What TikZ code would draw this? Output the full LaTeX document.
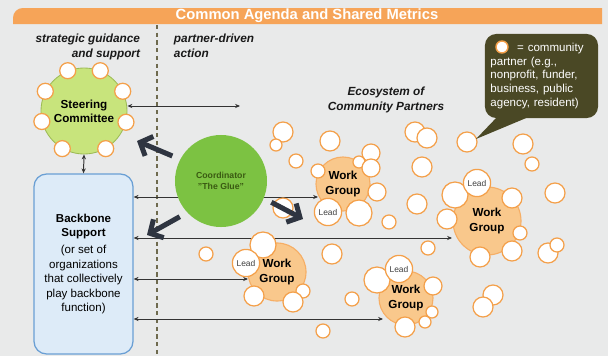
\documentclass[tikz,border=0pt]{standalone}
\usepackage{fontspec}
\setmainfont{Liberation Sans}
\usepackage{xcolor}
\usepackage{tikz}
\usetikzlibrary{positioning, arrows.meta, calc}

\definecolor{bgGray}{HTML}{E9EAEA}
\definecolor{barOrange}{HTML}{F6A458}
\definecolor{ringOrange}{HTML}{F4A04A}
\definecolor{wgFill}{HTML}{F9C88C}
\definecolor{scGreen}{HTML}{C8E47C}
\definecolor{scEdge}{HTML}{9DBB55}
\definecolor{glueGreen}{HTML}{7CC242}
\definecolor{glueText}{HTML}{3A5A12}
\definecolor{bbBlue}{HTML}{DDEBF8}
\definecolor{bbEdge}{HTML}{6A9FD4}
\definecolor{bubOlive}{HTML}{4A4825}
\definecolor{dashCol}{HTML}{6E6A4E}
\definecolor{arrowDark}{HTML}{2F3541}

\begin{document}
\begin{tikzpicture}[x=0.025cm, y=-0.025cm,
  partner/.style={circle, draw=ringOrange, fill=white, line width=0.9pt, inner sep=0pt},
  group/.style={circle, draw=ringOrange!85, fill=wgFill, line width=0.8pt, inner sep=0pt, align=center, font=\fontsize{8.3}{10}\selectfont\bfseries},
  lead/.style={partner, minimum size=0.68cm, font=\fontsize{6}{7}\selectfont, text=black!75},
  link/.style={{Stealth[length=3.5pt, width=3pt]}-{Stealth[length=3.5pt, width=3pt]}, line width=0.7pt, draw=black!80},
  glue/.style={-{Straight Barb[length=7pt, width=15pt]}, line width=3.6pt, draw=arrowDark, shorten <=6pt},
  hdr/.style={font=\fontsize{8.4}{10.5}\selectfont\bfseries\itshape, text=black!90}]

\fill[bgGray] (0,0) rectangle (608,356);
\useasboundingbox (0,0) rectangle (608,356);

% title bar
\fill[barOrange] (13,24) [rounded corners=7pt] -- (13,8) [sharp corners] -- (602,8) -- (602,24) -- cycle;
\node [text=white, font=\fontsize{10.5}{12}\selectfont\bfseries] (title) at (307,16) {Common Agenda and Shared Metrics};

\draw [draw=dashCol, line width=0.8pt, dash pattern=on 3pt off 2.5pt] (157,25) -- (157,356);

\node [hdr, align=right, anchor=north east] (strat) at (145,29) {strategic guidance\\and support};
\node [hdr, align=left, anchor=north west] (action) at (169,29) {partner-driven\\action};
\node [hdr, align=center] (eco) at (386,100) {Ecosystem of\\Community Partners};

\node [circle, fill=scGreen, draw=scEdge, line width=0.6pt, minimum size=2.15cm, align=center, font=\fontsize{8.3}{10}\selectfont\bfseries] (SC) at (84,111) {Steering\\Committee};
\foreach \a in {27,68,112,153,194,240,300,345}
  \node [partner, minimum size=0.4cm] (ring\a) at (SC.\a) {};

\node [rectangle, rounded corners=9pt, fill=bbBlue, draw=bbEdge, line width=0.9pt, minimum width=2.475cm, minimum height=4.5cm, align=center, font=\fontsize{8.2}{10.3}\selectfont] (BB) at (83.5,264) {\textbf{Backbone}\\\textbf{Support}\\[1.5pt](or set of\\organizations\\that collectively\\play backbone\\function)};

\coordinate (s1) at (240,106);
\coordinate (b1) at (318,197);
\coordinate (b2) at (452,238);
\coordinate (b3) at (248,279);
\coordinate (b4) at (383,319);

\draw [link] (SC.east |- s1) -- (s1);
\draw [link] (SC.south) -- (BB.north);
\draw [link] (BB.east |- b1) -- (b1);
\draw [link] (BB.east |- b2) -- (b2);
\draw [link] (BB.east |- b3) -- (b3);
\draw [link] (BB.east |- b4) -- (b4);

\node [group, minimum size=1.35cm] (W1) at (343,184) {Work\\Group};
\node [group, minimum size=1.7cm] (W2) at (487,221) {Work\\Group};
\node [group, minimum size=1.45cm] (W3) at (277,272) {Work\\Group};
\node [group, minimum size=1.35cm] (W4) at (406,298) {Work\\Group};

% community partners: x/y/radius in px
\foreach \x/\y/\r [count=\i] in {283/132/10, 276/145/6, 330/141/10, 296/161/7, 318/171/7, 371/153/9, 359/162/6, 371/168/9, 377/192/9, 359/213/13, 389/222/7, 283/208/10, 263/245/13, 415/132/10, 427/138/10, 422/167/10, 417/204/10, 467/142/10, 523/144/10, 532/164/7, 555/193/10, 455/195/13, 512/198/10, 447/219/10, 520/233/7, 480/257/10, 512/251/10, 428/248/7, 548/253/10, 557/245/7, 332/254/10, 377/280/13, 433/286/9, 352/299/7, 432/312/6, 425/322/6, 405/327/10, 493/295/10, 483/307/10, 323/331/7, 303/291/7, 206/254/7, 254/296/10, 293/302/10}
  \node [partner, minimum size=\r*0.05cm] (p\i) at (\x,\y) {};

\node [lead] (L1) at (328,212) {Lead};
\node [lead] (L2) at (477,183) {Lead};
\node [lead] (L3) at (246,263) {Lead};
\node [lead] (L4) at (399,269) {Lead};

\node [circle, fill=glueGreen, minimum size=2.3cm, inner sep=0pt, align=center, text=glueText, font=\fontsize{6.2}{7.4}\selectfont\bfseries] (CO) at (221,181) {Coordinator\\"The Glue"};

\coordinate (tA) at (137,141);
\coordinate (tB) at (147,235);
\coordinate (tC) at (303,219);
\draw [glue] (CO.152) -- (tA);
\draw [glue] (CO.223) -- (tB);
\draw [glue] (CO.-22) -- (tC);

\node [fill=bubOlive, rounded corners=8pt, minimum width=2.825cm, minimum height=2.1cm, text width=2.55cm, inner xsep=0pt, align=left, text=white, font=\fontsize{8.2}{9.9}\selectfont] (bub) at (541.5,76) {\hspace*{19pt}= community\\partner (e.g.,\\nonprofit, funder,\\business, public\\agency, resident)};
\node [partner, minimum size=0.3cm, line width=1pt] (key) at (502,47) {};
\coordinate (ptr) at (476,139);
\fill [bubOlive] ($(bub.south west)+(14,-3)$) -- (ptr) -- ($(bub.south west)+(48,-3)$) -- cycle;

\end{tikzpicture}
\end{document}
